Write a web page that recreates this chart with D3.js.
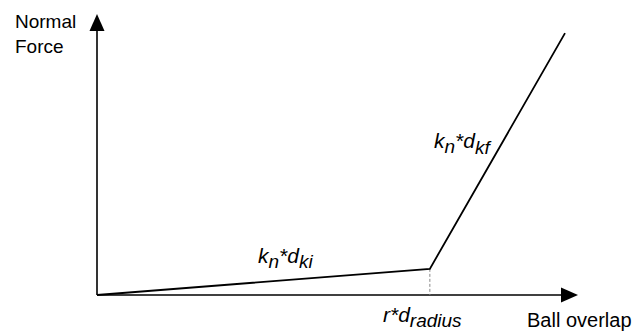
<!DOCTYPE html>
<html>
<head>
<meta charset="utf-8">
<script src="https://cdn.jsdelivr.net/npm/d3@7"></script>
<style>
  body { margin: 0; background: #fff; }
  text { font-family: "Liberation Sans", Arial, sans-serif; fill: #000; }
</style>
</head>
<body>
<script>
// force-overlap curve, normalised units
var overlap = [0, 0.692, 0.973]
var force   = [0, 0.093, 0.932]
var kinkIndex = 1

var width = 635, height = 331
var x = d3.scaleLinear().domain([0, 1]).range([97, 578])
var y = d3.scaleLinear().domain([0, 1]).range([295, 14])

var svg = d3.select("body").append("svg")
    .attr("width", width)
    .attr("height", height)

// axes with arrows
svg.append("line")
    .attr("x1", x(0)).attr("y1", y(0))
    .attr("x2", x(1) - 12).attr("y2", y(0))
    .attr("stroke", "#000").attr("stroke-width", 1.6)
svg.append("line")
    .attr("x1", x(0)).attr("y1", y(0))
    .attr("x2", x(0)).attr("y2", y(1) + 12)
    .attr("stroke", "#000").attr("stroke-width", 1.6)

svg.append("path")
    .attr("d", "M" + x(1) + "," + y(0) + "l-17,-7.5l0,15z")
svg.append("path")
    .attr("d", "M" + x(0) + "," + y(1) + "l-7.5,17l15,0z")

// dashed drop line at the kink
svg.append("line")
    .attr("x1", x(overlap[kinkIndex])).attr("y1", y(force[kinkIndex]))
    .attr("x2", x(overlap[kinkIndex])).attr("y2", y(0))
    .attr("stroke", "#888").attr("stroke-width", 1)
    .attr("stroke-dasharray", "3,2")

var line = d3.line()
    .x(function(d, i) { return x(overlap[i]) })
    .y(function(d, i) { return y(force[i]) })

svg.append("path")
    .datum(overlap)
    .attr("d", line)
    .attr("fill", "none")
    .attr("stroke", "#000")
    .attr("stroke-width", 1.8)

// labels
svg.append("text").attr("x", 15).attr("y", 28).attr("font-size", 19).text("Normal")
svg.append("text").attr("x", 15).attr("y", 53).attr("font-size", 19).text("Force")
svg.append("text").attr("x", 527).attr("y", 327).attr("font-size", 20).text("Ball overlap")

var fs = 21, sub = 19
function sublabel(px, py, parts) {
    var t = svg.append("text").attr("x", px).attr("y", py)
        .attr("font-size", fs).attr("font-style", "italic")
    parts.forEach(function(p) {
        t.append("tspan")
            .attr("dy", p[2] || 0)
            .attr("font-size", p[1] ? sub : fs)
            .text(p[0])
    })
}
sublabel(258, 263, [["k"], ["n", true, 5], ["*", false, -5], ["d"], ["ki", true, 5]])
sublabel(434, 148, [["k"], ["n", true, 5], ["*", false, -5], ["d"], ["kf", true, 6]])
sublabel(383, 322, [["r*d"], ["radius", true, 5]])
</script>
</body>
</html>
